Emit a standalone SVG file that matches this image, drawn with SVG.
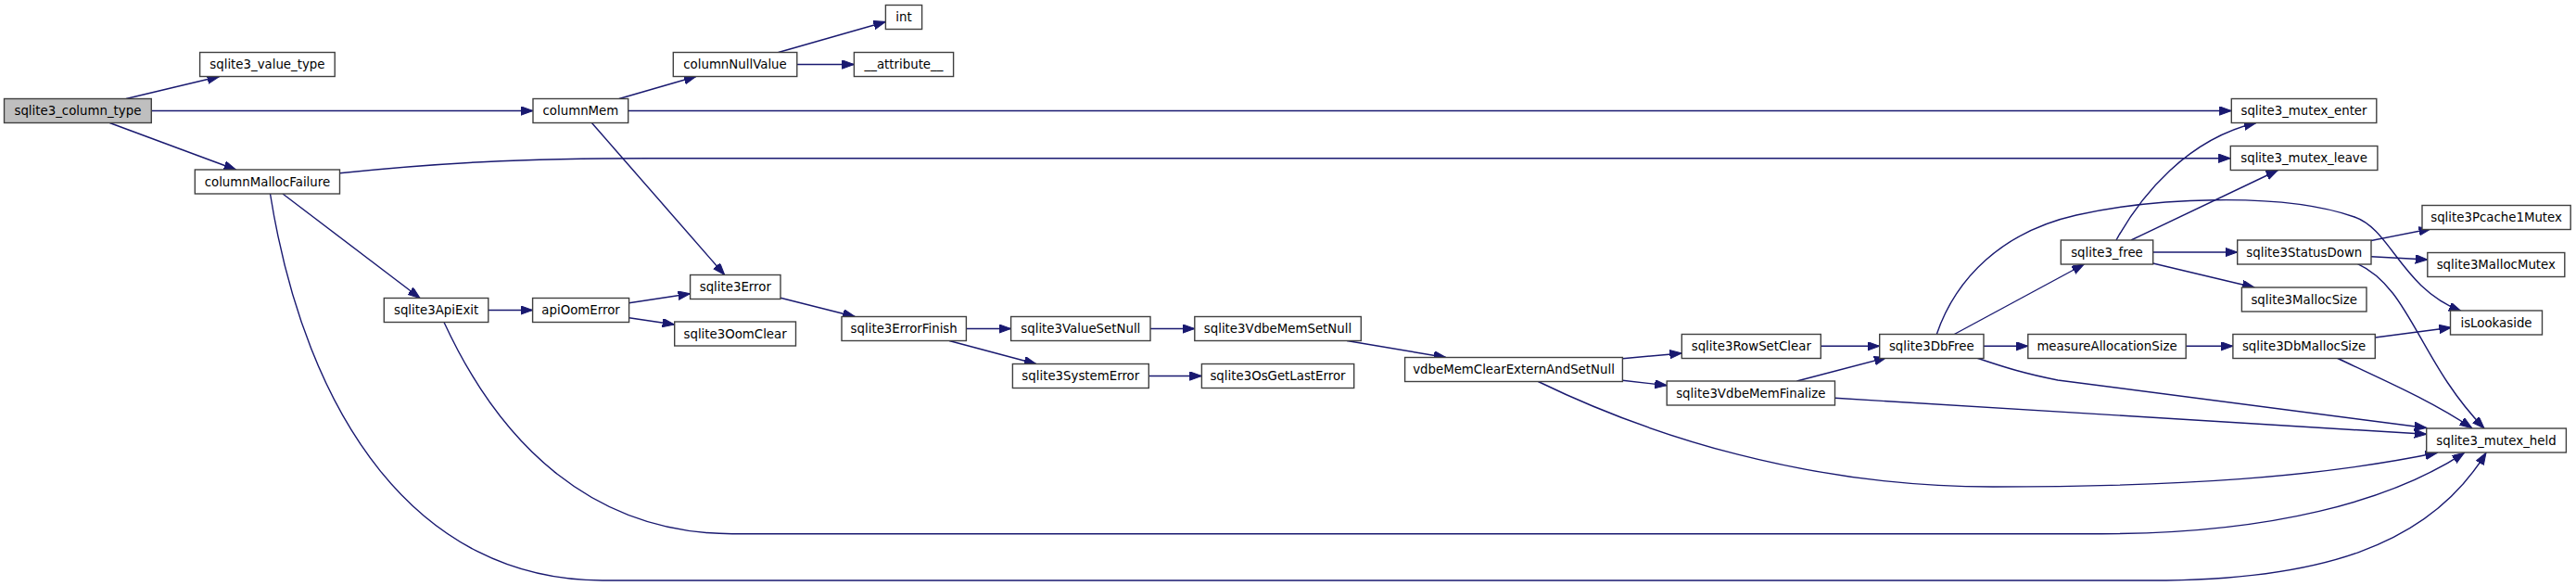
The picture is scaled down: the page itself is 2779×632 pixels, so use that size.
<svg xmlns="http://www.w3.org/2000/svg" width="2779" height="632" viewBox="0 0 2779 632">
<style>
.n rect{fill:#ffffff;stroke:#404040;stroke-width:1.4}
.n.root rect{fill:#bfbfbf}
.n text{font-family:"DejaVu Sans",sans-serif;font-size:13.33px;fill:#000;text-anchor:middle}
.e path{fill:none;stroke:#191970;stroke-width:1.4}
</style>
<defs>
<marker id="ah" markerUnits="userSpaceOnUse" markerWidth="14" markerHeight="10" refX="13" refY="4.7" orient="auto">
<path d="M0,0 L13,4.7 L0,9.4 z" fill="#191970" stroke="#191970" stroke-width="1"/>
</marker>
</defs>
<rect width="2779" height="632" fill="#ffffff"/>
<g id="edges" class="e" marker-end="url(#ah)">
<path d="M136,106.5 L236.6,82.5" marker-end="url(#ah)"/>
<path d="M163.3,119.5 L575,119.5" marker-end="url(#ah)"/>
<path d="M118.3,132.5 L254.5,183" marker-end="url(#ah)"/>
<path d="M667.9,106.5 L750.9,82.5" marker-end="url(#ah)"/>
<path d="M839.7,56.5 L955.4,23.5" marker-end="url(#ah)"/>
<path d="M859.8,69.5 L921.4,69.5" marker-end="url(#ah)"/>
<path d="M677.7,119.5 L2407.3,119.5" marker-end="url(#ah)"/>
<path d="M638.4,132.5 L781.7,296.5" marker-end="url(#ah)"/>
<path d="M366.5,186.7 C470,176 560,170.7 700,170.7 L2406.3,170.7" marker-end="url(#ah)"/>
<path d="M305,209 L453.1,321.5" marker-end="url(#ah)"/>
<path d="M291.5,209 C330,450 450,626 650,626 L2320,626 C2500,626 2620,590 2682,488.3" marker-end="url(#ah)"/>
<path d="M526.8,334.5 L574.6,334.5" marker-end="url(#ah)"/>
<path d="M479,347.5 C540,480 640,575.7 790,575.7 L2267,575.7 C2450,575.7 2580,540 2658.5,488.3" marker-end="url(#ah)"/>
<path d="M678.6,326.7 L744.6,316.7" marker-end="url(#ah)"/>
<path d="M678.6,342.7 L727.7,350" marker-end="url(#ah)"/>
<path d="M842,321.3 L922.3,341.5" marker-end="url(#ah)"/>
<path d="M1042.4,354.5 L1090.6,354.5" marker-end="url(#ah)"/>
<path d="M1024,367.5 L1117.9,392.5" marker-end="url(#ah)"/>
<path d="M1241,354.5 L1288.8,354.5" marker-end="url(#ah)"/>
<path d="M1239.3,405.5 L1296.4,405.5" marker-end="url(#ah)"/>
<path d="M1453,367.5 L1559.8,385.5" marker-end="url(#ah)"/>
<path d="M1750.4,386.7 L1814.3,381" marker-end="url(#ah)"/>
<path d="M1750.4,410.3 L1798.2,415.7" marker-end="url(#ah)"/>
<path d="M1659.4,411.5 C1780,470 1950,525 2150,525 C2350,525 2500,515 2629.4,488.3" marker-end="url(#ah)"/>
<path d="M1964.3,373.3 L2027.7,373.3" marker-end="url(#ah)"/>
<path d="M1938.4,411 L2035,385.7" marker-end="url(#ah)"/>
<path d="M1979.5,429.3 L2617.7,468.3" marker-end="url(#ah)"/>
<path d="M2108.3,360.5 L2248.3,285" marker-end="url(#ah)"/>
<path d="M2089.3,360.5 C2110,300 2160,250 2240,232 C2320,214 2460,206 2540,234 C2580,248 2590,310 2655,335.5" marker-end="url(#ah)"/>
<path d="M2140,373.3 L2187.8,373.3" marker-end="url(#ah)"/>
<path d="M2358.2,373.3 L2408.9,373.3" marker-end="url(#ah)"/>
<path d="M2132.4,386 C2165,397 2185,403 2220,410 L2617.7,461.5" marker-end="url(#ah)"/>
<path d="M2283,259 C2310,210 2360,150 2433.8,132.5" marker-end="url(#ah)"/>
<path d="M2299,259 L2457.5,183.5" marker-end="url(#ah)"/>
<path d="M2322.7,272 L2413.7,272" marker-end="url(#ah)"/>
<path d="M2322.7,284 L2432,310" marker-end="url(#ah)"/>
<path d="M2558,259.5 L2622.5,246.7" marker-end="url(#ah)"/>
<path d="M2558,276.7 L2618.7,280" marker-end="url(#ah)"/>
<path d="M2543,284.3 C2600,310 2610,390 2680,462" marker-end="url(#ah)"/>
<path d="M2521,386 C2560,405 2620,430 2666.7,461.7" marker-end="url(#ah)"/>
<path d="M2562.3,364 L2644.3,353.3" marker-end="url(#ah)"/>
</g>
<g id="sqlite3_column_type" class="n root"><rect x="4.5" y="106.5" width="158.8" height="26"/><text x="83.9" y="124.2">sqlite3_column_type</text></g>
<g id="sqlite3_value_type" class="n"><rect x="215.6" y="56.5" width="145.6" height="26"/><text x="288.4" y="74.2">sqlite3_value_type</text></g>
<g id="columnMem" class="n"><rect x="575" y="106.5" width="102.7" height="26"/><text x="626.4" y="124.2">columnMem</text></g>
<g id="columnMallocFailure" class="n"><rect x="210.3" y="183" width="156.2" height="26"/><text x="288.4" y="200.7">columnMallocFailure</text></g>
<g id="sqlite3ApiExit" class="n"><rect x="414.3" y="321.5" width="112.5" height="26"/><text x="470.6" y="339.2">sqlite3ApiExit</text></g>
<g id="apiOomError" class="n"><rect x="574.6" y="321.5" width="104" height="26"/><text x="626.6" y="339.2">apiOomError</text></g>
<g id="int" class="n"><rect x="955.4" y="5.5" width="39.2" height="26"/><text x="975" y="23.2">int</text></g>
<g id="columnNullValue" class="n"><rect x="726.3" y="56.5" width="133.5" height="26"/><text x="793" y="74.2">columnNullValue</text></g>
<g id="__attribute__" class="n"><rect x="921.4" y="56.5" width="107.2" height="26"/><text x="975" y="74.2">__attribute__</text></g>
<g id="sqlite3Error" class="n"><rect x="744.6" y="296.5" width="97.4" height="26"/><text x="793.3" y="314.2">sqlite3Error</text></g>
<g id="sqlite3OomClear" class="n"><rect x="727.7" y="347" width="130.8" height="26"/><text x="793.1" y="364.7">sqlite3OomClear</text></g>
<g id="sqlite3ErrorFinish" class="n"><rect x="908" y="341.5" width="134.4" height="26"/><text x="975.2" y="359.2">sqlite3ErrorFinish</text></g>
<g id="sqlite3ValueSetNull" class="n"><rect x="1090.6" y="341.5" width="150.4" height="26"/><text x="1165.8" y="359.2">sqlite3ValueSetNull</text></g>
<g id="sqlite3SystemError" class="n"><rect x="1092.4" y="392.5" width="146.9" height="26"/><text x="1165.8" y="410.2">sqlite3SystemError</text></g>
<g id="sqlite3VdbeMemSetNull" class="n"><rect x="1288.8" y="341.5" width="179.5" height="26"/><text x="1378.5" y="359.2">sqlite3VdbeMemSetNull</text></g>
<g id="sqlite3OsGetLastError" class="n"><rect x="1296.4" y="392.5" width="164.3" height="26"/><text x="1378.5" y="410.2">sqlite3OsGetLastError</text></g>
<g id="vdbeMemClearExternAndSetNull" class="n"><rect x="1515.6" y="385.5" width="234.8" height="26"/><text x="1633" y="403.2">vdbeMemClearExternAndSetNull</text></g>
<g id="sqlite3RowSetClear" class="n"><rect x="1814.3" y="360.5" width="150" height="26"/><text x="1889.3" y="378.2">sqlite3RowSetClear</text></g>
<g id="sqlite3VdbeMemFinalize" class="n"><rect x="1798.2" y="411" width="181.3" height="26"/><text x="1888.8" y="428.7">sqlite3VdbeMemFinalize</text></g>
<g id="sqlite3_mutex_enter" class="n"><rect x="2407.3" y="106.5" width="156.5" height="26"/><text x="2485.5" y="124.2">sqlite3_mutex_enter</text></g>
<g id="sqlite3_mutex_leave" class="n"><rect x="2406.3" y="157.5" width="158.6" height="26"/><text x="2485.6" y="175.2">sqlite3_mutex_leave</text></g>
<g id="sqlite3Pcache1Mutex" class="n"><rect x="2613" y="221.5" width="160.2" height="26"/><text x="2693.1" y="239.2">sqlite3Pcache1Mutex</text></g>
<g id="sqlite3_free" class="n"><rect x="2223.3" y="259" width="99.4" height="26"/><text x="2273" y="276.7">sqlite3_free</text></g>
<g id="sqlite3StatusDown" class="n"><rect x="2413.7" y="259" width="144.3" height="26"/><text x="2485.8" y="276.7">sqlite3StatusDown</text></g>
<g id="sqlite3MallocMutex" class="n"><rect x="2618.8" y="272.5" width="148" height="26"/><text x="2692.8" y="290.2">sqlite3MallocMutex</text></g>
<g id="sqlite3MallocSize" class="n"><rect x="2418.4" y="310" width="134.6" height="26"/><text x="2485.7" y="327.7">sqlite3MallocSize</text></g>
<g id="isLookaside" class="n"><rect x="2643.5" y="335" width="99" height="26"/><text x="2693" y="352.7">isLookaside</text></g>
<g id="sqlite3DbFree" class="n"><rect x="2027.7" y="360.5" width="112.3" height="26"/><text x="2083.8" y="378.2">sqlite3DbFree</text></g>
<g id="measureAllocationSize" class="n"><rect x="2187.8" y="360.5" width="170.4" height="26"/><text x="2273" y="378.2">measureAllocationSize</text></g>
<g id="sqlite3DbMallocSize" class="n"><rect x="2408.9" y="360.5" width="153.4" height="26"/><text x="2485.6" y="378.2">sqlite3DbMallocSize</text></g>
<g id="sqlite3_mutex_held" class="n"><rect x="2617.7" y="462" width="150.7" height="26"/><text x="2693" y="479.7">sqlite3_mutex_held</text></g>
</svg>
